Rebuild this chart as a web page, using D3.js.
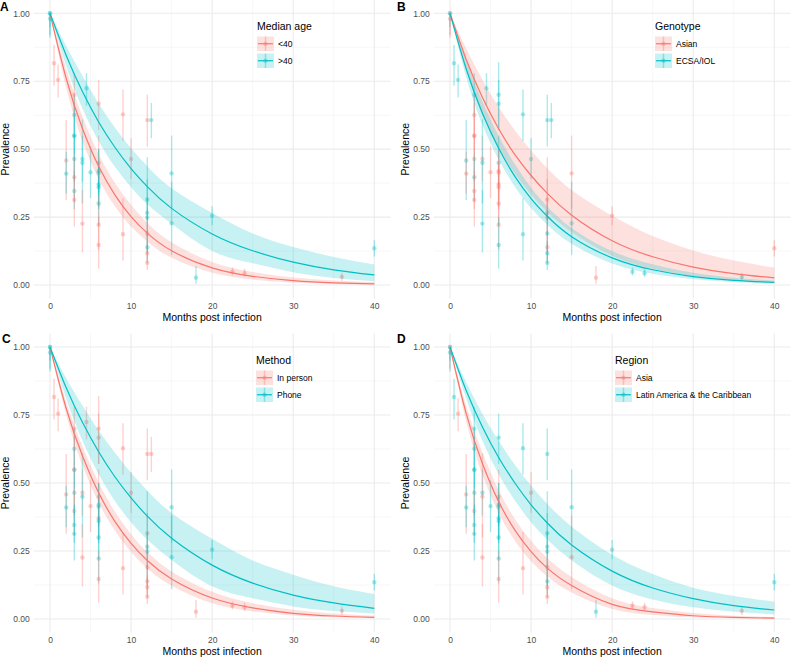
<!DOCTYPE html>
<html><head><meta charset="utf-8">
<script src="https://cdn.jsdelivr.net/npm/d3@7"></script>
<style>
body{margin:0;background:#fff}
svg{display:block}
text{font-family:"Liberation Sans",Arial,Helvetica,sans-serif}
</style>
</head><body>
<svg id="chart" width="791" height="657"></svg>
<script>
// ---------- Study-level data (same studies in every panel, coloured by subgroup) ----------
const studyMonth = [0,0,0,0.5,1,2,2,3,3,3,3,3,3,3,3,4,4,4,4.5,5,6,6,6,6,6,6,6,6,6,6,9,9,10,12,12.5,12,12,12,12,12,12,12,15,15,18,20,22.5,24,36,40];
const studyPrev  = [1,1,0.98,0.816,0.755,0.458,0.41,0.70,0.626,0.55,0.548,0.464,0.397,0.346,0.313,0.464,0.45,0.226,0.724,0.415,0.70,0.667,0.45,0.42,0.413,0.37,0.36,0.30,0.222,0.147,0.628,0.187,0.464,0.607,0.607,0.315,0.266,0.248,0.19,0.139,0.117,0.082,0.411,0.227,0.027,0.255,0.049,0.043,0.03,0.135];
const studyLow   = [0.92,0.95,0.91,0.733,0.69,0.313,0.337,0.62,0.55,0.48,0.42,0.38,0.31,0.28,0.215,0.38,0.30,0.12,0.66,0.32,0.57,0.57,0.36,0.34,0.33,0.29,0.28,0.22,0.13,0.06,0.53,0.09,0.39,0.51,0.54,0.24,0.12,0.18,0.12,0.09,0.08,0.055,0.28,0.11,0.005,0.22,0.035,0.03,0.015,0.105];
const studyHigh  = [1,1,1,0.883,0.812,0.607,0.49,0.78,0.70,0.62,0.67,0.55,0.48,0.42,0.42,0.55,0.61,0.35,0.78,0.51,0.82,0.755,0.55,0.50,0.50,0.45,0.44,0.38,0.33,0.25,0.72,0.32,0.54,0.70,0.67,0.39,0.47,0.32,0.27,0.20,0.16,0.12,0.55,0.38,0.07,0.29,0.065,0.06,0.045,0.165];
// subgroup index per study: 0 = first level (red), 1 = second level (teal), null = not reported
const groupAge      = [1,1,1,0,0,0,1,0,1,1,1,1,0,1,0,1,1,0,1,1,null,0,0,1,1,1,1,1,0,0,0,0,0,0,1,1,1,1,0,1,0,0,1,1,1,1,0,0,0,1];
const groupGenotype = [0,1,0,1,1,1,0,1,0,0,0,0,1,0,0,0,1,1,1,0,1,1,1,0,0,0,0,0,0,1,1,1,1,1,1,0,0,0,1,0,1,1,0,1,0,0,1,1,1,0];
const groupMethod   = [1,1,1,0,0,0,1,0,1,1,0,1,0,1,1,0,1,0,0,0,0,0,0,1,1,0,1,1,1,0,0,0,0,0,0,0,1,1,0,0,0,0,1,1,0,1,0,0,0,1];
const groupRegion   = [0,1,1,1,0,0,1,1,1,1,1,1,0,1,1,1,0,0,null,1,null,1,0,1,1,1,1,1,1,0,1,0,0,1,null,1,1,1,0,1,0,0,1,0,1,1,0,0,0,1];

// ---------- Fitted decay curves and 95% bands ----------
const fitMonths = [0,2,4,6,8,10,12,15,20,25,30,35,40];
// A: Median age
const ageFitUnder40 = [1,0.76,0.576,0.437,0.332,0.252,0.191,0.126,0.063,0.032,0.016,0.008,0.004];
const ageLowUnder40 = [1,0.725,0.53,0.39,0.29,0.215,0.16,0.10,0.045,0.02,0.009,0.004,0.0015];
const ageHighUnder40= [1,0.795,0.62,0.482,0.376,0.295,0.228,0.157,0.085,0.048,0.028,0.017,0.011];
const ageFitOver40  = [1,0.845,0.712,0.60,0.507,0.428,0.362,0.282,0.188,0.126,0.084,0.056,0.037];
const ageLowOver40  = [1,0.805,0.65,0.53,0.435,0.36,0.297,0.225,0.125,0.08,0.047,0.026,0.014];
const ageHighOver40 = [1,0.88,0.77,0.668,0.58,0.503,0.437,0.356,0.265,0.19,0.14,0.103,0.075];
// B: Genotype
const genFitAsian   = [1,0.83,0.69,0.575,0.48,0.403,0.337,0.257,0.163,0.104,0.066,0.042,0.026];
const genLowAsian   = [1,0.79,0.625,0.505,0.41,0.333,0.27,0.195,0.108,0.06,0.033,0.018,0.01];
const genHighAsian  = [1,0.87,0.755,0.655,0.57,0.495,0.43,0.35,0.255,0.18,0.127,0.09,0.064];
const genFitECSA    = [1,0.795,0.632,0.503,0.40,0.318,0.253,0.178,0.10,0.056,0.031,0.017,0.0095];
const genLowECSA    = [1,0.765,0.59,0.462,0.362,0.283,0.222,0.152,0.079,0.041,0.021,0.011,0.0055];
const genHighECSA   = [1,0.825,0.675,0.548,0.445,0.358,0.289,0.21,0.125,0.076,0.045,0.027,0.016];
// C: Method
const metFitPerson  = [1,0.774,0.60,0.464,0.359,0.278,0.215,0.147,0.077,0.041,0.021,0.011,0.006];
const metLowPerson  = [1,0.75,0.565,0.428,0.325,0.246,0.186,0.122,0.058,0.028,0.013,0.006,0.003];
const metHighPerson = [1,0.797,0.635,0.502,0.395,0.312,0.246,0.175,0.10,0.058,0.034,0.02,0.012];
const metFitPhone   = [1,0.85,0.723,0.615,0.523,0.445,0.378,0.297,0.198,0.132,0.088,0.059,0.039];
const metLowPhone   = [1,0.81,0.655,0.532,0.434,0.356,0.292,0.217,0.12,0.076,0.046,0.029,0.02];
const metHighPhone  = [1,0.885,0.785,0.693,0.612,0.538,0.472,0.39,0.295,0.215,0.163,0.12,0.092];
// D: Region
const regFitAsia    = [1,0.755,0.572,0.432,0.327,0.248,0.187,0.123,0.054,0.026,0.012,0.006,0.003];
const regLowAsia    = [1,0.725,0.53,0.39,0.288,0.212,0.156,0.097,0.037,0.015,0.006,0.0025,0.001];
const regHighAsia   = [1,0.783,0.612,0.474,0.368,0.288,0.224,0.154,0.076,0.04,0.022,0.012,0.007];
const regFitLatAm   = [1,0.84,0.706,0.594,0.50,0.42,0.353,0.272,0.176,0.114,0.075,0.049,0.033];
const regLowLatAm   = [1,0.81,0.655,0.532,0.436,0.356,0.292,0.216,0.123,0.072,0.043,0.027,0.017];
const regHighLatAm  = [1,0.87,0.755,0.655,0.567,0.49,0.423,0.34,0.236,0.165,0.115,0.085,0.063];

const xTicks = [0,10,20,30,40];
const yTicks = [0,0.25,0.5,0.75,1];
const yTickLabels = ["0.00","0.25","0.50","0.75","1.00"];
const colours = ["#F8766D","#00BFC4"];

// ---------- panels ----------
const panels = [
  {letter:"A", title:"Median age", levels:["<40",">40"], groups:groupAge,
   fit:[ageFitUnder40,ageFitOver40], lo:[ageLowUnder40,ageLowOver40], hi:[ageHighUnder40,ageHighOver40],
   xr:[50,374.3], yr:[285,13.3], lx:257, ly:26, lab:[0,11], ylab:5},
  {letter:"B", title:"Genotype", levels:["Asian","ECSA/IOL"], groups:groupGenotype,
   fit:[genFitAsian,genFitECSA], lo:[genLowAsian,genLowECSA], hi:[genHighAsian,genHighECSA],
   xr:[450,774.3], yr:[285,13.3], lx:655, ly:26, lab:[397,11], ylab:405},
  {letter:"C", title:"Method", levels:["In person","Phone"], groups:groupMethod,
   fit:[metFitPerson,metFitPhone], lo:[metLowPerson,metLowPhone], hi:[metHighPerson,metHighPhone],
   xr:[50,374.3], yr:[619,347], lx:256, ly:360, lab:[2,343], ylab:5},
  {letter:"D", title:"Region", levels:["Asia","Latin America & the Caribbean"], groups:groupRegion,
   fit:[regFitAsia,regFitLatAm], lo:[regLowAsia,regLowLatAm], hi:[regHighAsia,regHighLatAm],
   xr:[450,774.3], yr:[619,347], lx:615, ly:360, lab:[397,343], ylab:405}
];

const svg = d3.select("#chart");

panels.forEach(p => {
  const x = d3.scaleLinear().domain([0,40]).range(p.xr);
  const y = d3.scaleLinear().domain([0,1]).range(p.yr);
  const g = svg.append("g");
  const xl = x(-2), xh = x(42), yb = y(-0.05), yt = y(1.05);

  // minor grid
  [5,15,25,35].forEach(v => g.append("line").attr("x1",x(v)).attr("x2",x(v)).attr("y1",yt).attr("y2",yb)
     .attr("stroke","#f2f2f2").attr("stroke-width",0.6));
  [0.125,0.375,0.625,0.875].forEach(v => g.append("line").attr("x1",xl).attr("x2",xh).attr("y1",y(v)).attr("y2",y(v))
     .attr("stroke","#f2f2f2").attr("stroke-width",0.6));
  // major grid
  xTicks.forEach(v => g.append("line").attr("x1",x(v)).attr("x2",x(v)).attr("y1",yt).attr("y2",yb)
     .attr("stroke","#ebebeb").attr("stroke-width",1.1));
  yTicks.forEach(v => g.append("line").attr("x1",xl).attr("x2",xh).attr("y1",y(v)).attr("y2",y(v))
     .attr("stroke","#ebebeb").attr("stroke-width",1.1));

  // axes (labels only)
  const ax = g.append("g").attr("transform",`translate(0,${yb})`)
    .call(d3.axisBottom(x).tickValues(xTicks).tickSize(0).tickPadding(4).tickFormat(d3.format("d")));
  ax.select(".domain").remove();
  ax.selectAll("text").attr("fill","#4d4d4d").attr("font-size","8.5px").attr("font-family","Liberation Sans, Arial, sans-serif");
  const ay = g.append("g").attr("transform",`translate(${xl},0)`)
    .call(d3.axisLeft(y).tickValues(yTicks).tickSize(0).tickPadding(4).tickFormat((d,i)=>yTickLabels[i]));
  ay.select(".domain").remove();
  ay.selectAll("text").attr("fill","#4d4d4d").attr("font-size","8.5px").attr("font-family","Liberation Sans, Arial, sans-serif");

  // axis titles
  g.append("text").attr("x",(xl+xh)/2).attr("y",yb+22).attr("text-anchor","middle")
    .attr("font-size","10.5px").attr("fill","#000").text("Months post infection");
  g.append("text").attr("transform",`translate(${p.ylab+4},${(yt+yb)/2}) rotate(-90)`).attr("text-anchor","middle")
    .attr("font-size","10.5px").attr("fill","#000").text("Prevalence");

  // panel letter
  g.append("text").attr("x",p.lab[0]).attr("y",p.lab[1]).attr("font-size","12px").attr("font-weight","bold").text(p.letter);

  // point ranges
  const idx = d3.range(studyMonth.length).filter(i => p.groups[i] !== null);
  const pr = g.append("g");
  idx.forEach(i => {
    const c = colours[p.groups[i]];
    pr.append("line").attr("x1",x(studyMonth[i])).attr("x2",x(studyMonth[i]))
      .attr("y1",y(studyLow[i])).attr("y2",y(studyHigh[i]))
      .attr("stroke",c).attr("stroke-opacity",0.33).attr("stroke-width",1.4);
    pr.append("circle").attr("cx",x(studyMonth[i])).attr("cy",y(studyPrev[i])).attr("r",2.2)
      .attr("fill",c).attr("fill-opacity",0.35);
  });

  // ribbons
  [0,1].forEach(k => {
    const area = d3.area().x((d,i)=>x(fitMonths[i])).y0((d,i)=>y(p.lo[k][i])).y1((d,i)=>y(p.hi[k][i]))
      .curve(d3.curveNatural);
    g.append("path").datum(p.fit[k]).attr("d",area).attr("fill",colours[k]).attr("fill-opacity",0.22);
  });
  // fitted lines
  [0,1].forEach(k => {
    const line = d3.line().x((d,i)=>x(fitMonths[i])).y(d=>y(d)).curve(d3.curveNatural);
    g.append("path").datum(p.fit[k]).attr("d",line).attr("fill","none").attr("stroke",colours[k]).attr("stroke-width",1.2);
  });

  // legend
  const lg = g.append("g");
  lg.append("text").attr("x",p.lx).attr("y",p.ly+4).attr("font-size","10.5px").text(p.title);
  p.levels.forEach((lv,k) => {
    const ky = p.ly + 10.5 + k*17;
    const kx = p.lx;
    lg.append("rect").attr("x",kx).attr("y",ky).attr("width",17).attr("height",14.5)
      .attr("fill",colours[k]).attr("fill-opacity",0.22);
    lg.append("line").attr("x1",kx+8.5).attr("x2",kx+8.5).attr("y1",ky).attr("y2",ky+14.5)
      .attr("stroke",colours[k]).attr("stroke-opacity",0.35).attr("stroke-width",1.4);
    lg.append("line").attr("x1",kx+1).attr("x2",kx+16).attr("y1",ky+7.25).attr("y2",ky+7.25)
      .attr("stroke",colours[k]).attr("stroke-width",1.2);
    lg.append("circle").attr("cx",kx+8.5).attr("cy",ky+7.25).attr("r",2.2).attr("fill",colours[k]).attr("fill-opacity",0.35);
    lg.append("text").attr("x",kx+21).attr("y",ky+10.3).attr("font-size","8.5px").attr("fill","#000").text(lv);
  });
});
</script>
</body></html>
